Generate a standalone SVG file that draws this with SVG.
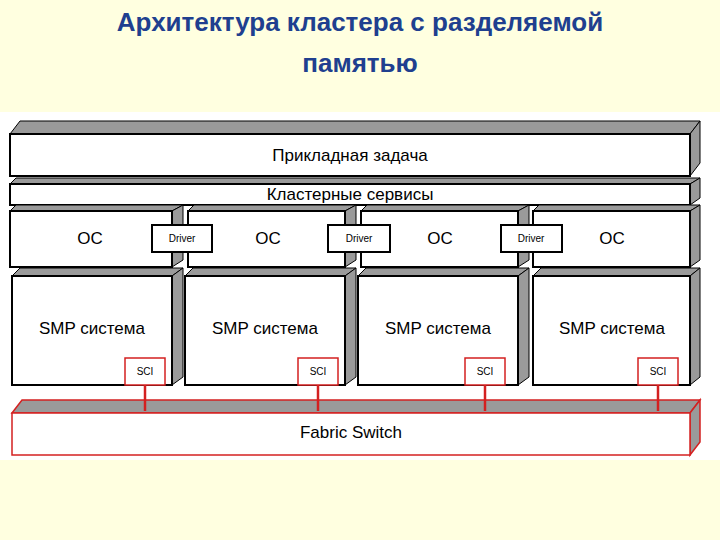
<svg xmlns="http://www.w3.org/2000/svg" width="720" height="540" viewBox="0 0 720 540">
<style>
.f{fill:#fff;stroke:#000;stroke-width:2}
.g{fill:#9a9a9a;stroke:#000;stroke-width:1}
.fr{fill:#fff;stroke:#d42020;stroke-width:1.5}
.gr{fill:#9a9a9a;stroke:#d42020;stroke-width:1.5}
.t{font-family:"Liberation Sans",Arial,sans-serif;font-size:17px;fill:#000;text-anchor:middle}
.s{font-family:"Liberation Sans",Arial,sans-serif;font-size:10px;fill:#000;text-anchor:middle}
.h{font-family:"Liberation Sans",Arial,sans-serif;font-size:26px;font-weight:bold;fill:#203f8f;text-anchor:middle}
.c{stroke:#d42020;stroke-width:2.5}
</style>
<rect width="720" height="540" fill="#ffffe0"/>
<rect x="0" y="112" width="720" height="348" fill="#fff"/>
<text class="h" x="360" y="31">Архитектура кластера с разделяемой</text>
<text class="h" x="360" y="72">памятью</text>
<g id="app">
<polygon class="g" points="10,134 20,121 700,121 690,134"/>
<polygon class="g" points="690,134 700,121 700,163 690,176"/>
<rect class="f" x="10" y="134" width="680" height="42"/>
<text class="t" x="350" y="161">Прикладная задача</text>
</g>
<g id="cluster">
<polygon class="g" points="10,184 16,178 700,178 690,184"/>
<polygon class="g" points="690,184 700,178 700,198 690,205"/>
<rect class="f" x="10" y="184" width="680" height="21"/>
<text class="t" x="350" y="200">Кластерные сервисы</text>
</g>
<g id="os1">
<polygon class="g" points="10,211 16,205 183,205 172,211"/>
<polygon class="g" points="172,211 183,205 183,260 172,267"/>
<rect class="f" x="10" y="211" width="162" height="56"/>
<text class="t" x="90" y="244">ОС</text>
</g>
<g id="os2">
<polygon class="g" points="188,211 194,205 356,205 345,211"/>
<polygon class="g" points="345,211 356,205 356,260 345,267"/>
<rect class="f" x="188" y="211" width="157" height="56"/>
<text class="t" x="268" y="244">ОС</text>
</g>
<g id="os3">
<polygon class="g" points="361,211 367,205 529,205 518,211"/>
<polygon class="g" points="518,211 529,205 529,260 518,267"/>
<rect class="f" x="361" y="211" width="157" height="56"/>
<text class="t" x="440" y="244">ОС</text>
</g>
<g id="os4">
<polygon class="g" points="533,211 539,205 700,205 690,211"/>
<polygon class="g" points="690,211 700,205 700,260 690,267"/>
<rect class="f" x="533" y="211" width="157" height="56"/>
<text class="t" x="612" y="244">ОС</text>
</g>
<g id="drv1"><rect class="f" x="152" y="225" width="60" height="27" stroke-width="1.5"/><text class="s" x="182" y="242">Driver</text></g>
<g id="drv2"><rect class="f" x="328" y="225" width="62" height="27" stroke-width="1.5"/><text class="s" x="359" y="242">Driver</text></g>
<g id="drv3"><rect class="f" x="501" y="225" width="61" height="27" stroke-width="1.5"/><text class="s" x="531" y="242">Driver</text></g>
<g id="smp1">
<polygon class="g" points="12,276 20,268 183,268 172,276"/>
<polygon class="g" points="172,276 183,268 183,377 172,385"/>
<rect class="f" x="12" y="276" width="160" height="109"/>
<text class="t" x="92" y="334">SMP система</text>
<rect class="fr" x="125" y="358" width="40" height="27"/><text class="s" x="145" y="375">SCI</text>
</g>
<g id="smp2">
<polygon class="g" points="185,276 193,268 356,268 345,276"/>
<polygon class="g" points="345,276 356,268 356,377 345,385"/>
<rect class="f" x="185" y="276" width="160" height="109"/>
<text class="t" x="265" y="334">SMP система</text>
<rect class="fr" x="298" y="358" width="40" height="27"/><text class="s" x="318" y="375">SCI</text>
</g>
<g id="smp3">
<polygon class="g" points="358,276 366,268 529,268 518,276"/>
<polygon class="g" points="518,276 529,268 529,377 518,385"/>
<rect class="f" x="358" y="276" width="160" height="109"/>
<text class="t" x="438" y="334">SMP система</text>
<rect class="fr" x="465" y="358" width="40" height="27"/><text class="s" x="485" y="375">SCI</text>
</g>
<g id="smp4">
<polygon class="g" points="533,276 541,268 700,268 690,276"/>
<polygon class="g" points="690,276 700,268 700,377 690,385"/>
<rect class="f" x="533" y="276" width="157" height="109"/>
<text class="t" x="612" y="334">SMP система</text>
<rect class="fr" x="638" y="358" width="40" height="27"/><text class="s" x="658" y="375">SCI</text>
</g>
<g id="fabric">
<polygon class="gr" points="12,413 22,400 700,400 690,413"/>
<polygon class="gr" points="690,413 700,400 700,442 690,455"/>
<rect class="fr" x="12" y="413" width="678" height="42"/>
<text class="t" x="351" y="438">Fabric Switch</text>
</g>
<g id="connectors">
<line class="c" x1="145" y1="385" x2="145" y2="411"/>
<line class="c" x1="318" y1="385" x2="318" y2="411"/>
<line class="c" x1="485" y1="385" x2="485" y2="411"/>
<line class="c" x1="658" y1="385" x2="658" y2="411"/>
</g>
</svg>
